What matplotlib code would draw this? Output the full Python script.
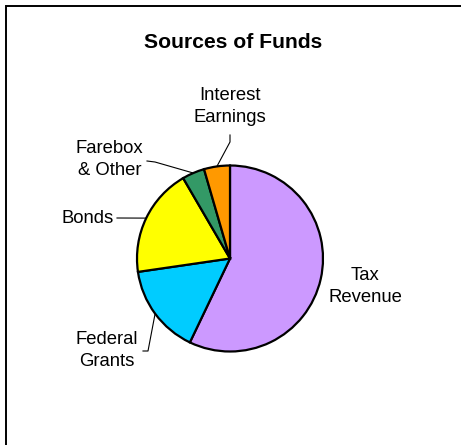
import numpy as np
import matplotlib
matplotlib.use("Agg")
from matplotlib import pyplot as plt
from matplotlib.patches import Rectangle

plt.rcParams['font.family'] = ['Liberation Sans', 'DejaVu Sans']

# shares of total funding (percent)
fuentes = ['Tax\nRevenue', 'Federal\nGrants', 'Bonds', 'Farebox\n& Other', 'Interest\nEarnings']
valores = [57.1, 15.6, 18.9, 3.9, 4.5]
colores = ['#CC99FF', '#00CCFF', '#FFFF00', '#339966', '#FF9900']

W, H = 461, 445

fig = plt.figure(figsize=(W / 100, H / 100), dpi=100)
ax = fig.add_axes([0, 0, 1, 1])

# pie drawn in pixel units, y pointing up
centro = (230, H - 258.5)
radio = 93
cunas, _ = ax.pie(valores, colors=colores, startangle=90, counterclock=False,
                  center=centro, radius=radio,
                  wedgeprops=dict(edgecolor='black', linewidth=1.6))
ax.set_xlim(0, W)
ax.set_ylim(0, H)
ax.set_aspect('equal')
ax.axis('off')

# outer border of the chart area (right and bottom sides fall outside)
ax.add_patch(Rectangle((5.5, -50), W + 100, H - 5.5 + 50, fill=False,
                       edgecolor='black', linewidth=1.4, clip_on=False))

ax.text(233, H - 48, 'Sources of Funds', ha='center', va='baseline',
        fontsize=15.2, fontweight='bold')

# label centre and leader-line bend points for each slice (None = no leader)
pos_texto = [(365, 286.5), (107, 350.5), (88, 218.5), (109.5, 159.5), (230, 106.5)]
quiebres = [None,
            [(143, 351), (148, 351)],
            [(117, 218)],
            [(147, 161), (155, 162)],
            [(230, 135), (230, 142)]]

for cuna, nombre, (tx, ty), quiebre in zip(cunas, fuentes, pos_texto, quiebres):
    ax.text(tx, H - ty, nombre, ha='center', va='center', fontsize=13.3,
            linespacing=1.45)
    if quiebre is None:
        continue
    ang = np.deg2rad((cuna.theta1 + cuna.theta2) / 2)
    borde = (centro[0] + radio * np.cos(ang), centro[1] + radio * np.sin(ang))
    xs = [p[0] for p in quiebre] + [borde[0]]
    ys = [H - p[1] for p in quiebre] + [borde[1]]
    ax.plot(xs, ys, color='black', linewidth=0.8)

fig.savefig('out.png', dpi=100)
